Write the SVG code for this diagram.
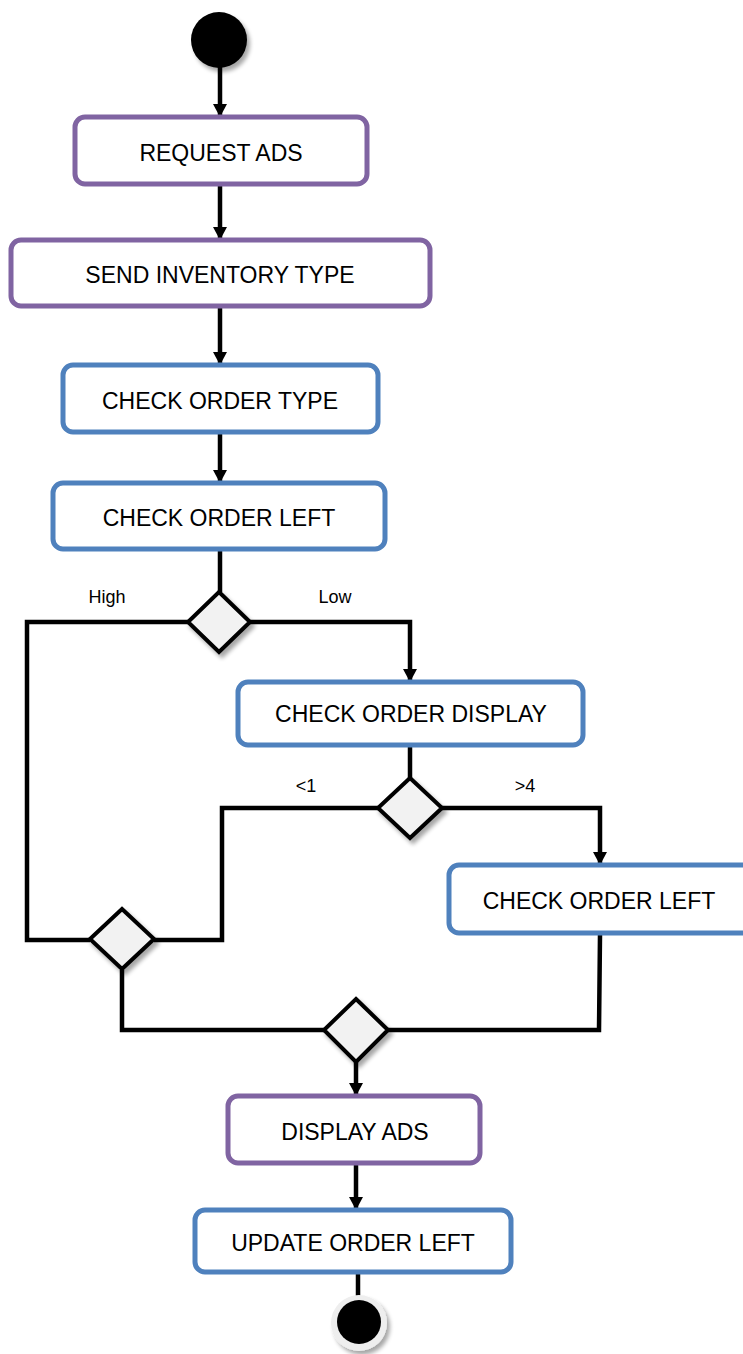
<svg xmlns="http://www.w3.org/2000/svg" width="743" height="1354" viewBox="0 0 743 1354">
<defs>
<marker id="arrow" markerWidth="14" markerHeight="14" refX="12" refY="7" orient="auto" markerUnits="userSpaceOnUse">
<path d="M0,0 L13,7 L0,14 Z" fill="#000"/>
</marker>
<filter id="shadow" x="-30%" y="-30%" width="170%" height="170%">
<feGaussianBlur in="SourceAlpha" stdDeviation="2"/>
<feOffset dx="3" dy="4" result="b"/>
<feComponentTransfer><feFuncA type="linear" slope="0.35"/></feComponentTransfer>
<feMerge><feMergeNode/><feMergeNode in="SourceGraphic"/></feMerge>
</filter>
</defs>
<style>
.purple{fill:#fff;stroke:#8064A2;stroke-width:5}
.blue{fill:#fff;stroke:#4F81BD;stroke-width:5}
.dia{fill:#F2F2F2;stroke:#000;stroke-width:4;filter:url(#shadow)}
.lbl{font-family:"Liberation Sans",Arial,sans-serif;font-size:23px;fill:#000;text-anchor:middle;dominant-baseline:central}
.small{font-family:"Liberation Sans",Arial,sans-serif;font-size:18px;fill:#000;text-anchor:middle;dominant-baseline:central}
.line{fill:none;stroke:#000;stroke-width:4.5}
</style>
<rect width="743" height="1354" fill="#fff"/>
<g id="connectors">
<line class="line" x1="220" y1="66" x2="220" y2="116" marker-end="url(#arrow)"/>
<line class="line" x1="220" y1="186" x2="220" y2="239" marker-end="url(#arrow)"/>
<line class="line" x1="220" y1="308" x2="220" y2="364" marker-end="url(#arrow)"/>
<line class="line" x1="220" y1="434" x2="220" y2="482" marker-end="url(#arrow)"/>
<line class="line" x1="220" y1="551" x2="220" y2="592"/>
<polyline class="line" points="188,622 27,622 27,940 90,940"/>
<polyline class="line" points="250,622 410,622 410,681" marker-end="url(#arrow)"/>
<line class="line" x1="410" y1="747" x2="410" y2="778"/>
<polyline class="line" points="378,808 222,808 222,940 154,940"/>
<polyline class="line" points="442,808 600,808 600,864" marker-end="url(#arrow)"/>
<polyline class="line" points="600,935 599,1030 388,1030"/>
<polyline class="line" points="122,970 122,1030 324,1030"/>
<line class="line" x1="356" y1="1062" x2="356" y2="1095" marker-end="url(#arrow)"/>
<line class="line" x1="356" y1="1165" x2="356" y2="1209" marker-end="url(#arrow)"/>
<line class="line" x1="358" y1="1274" x2="358" y2="1300"/>
<text class="small" x="107" y="597">High</text>
<text class="small" x="335" y="597">Low</text>
<text class="small" x="306" y="786">&lt;1</text>
<text class="small" x="525" y="786">&gt;4</text>
</g>
<g id="start"><circle cx="219" cy="40" r="28" fill="#000" filter="url(#shadow)"/></g>
<g id="request-ads"><rect class="purple" x="75" y="117" width="292" height="67" rx="10"/><text class="lbl" x="221" y="153">REQUEST ADS</text></g>
<g id="send-inventory-type"><rect class="purple" x="11" y="240" width="419" height="66" rx="10"/><text class="lbl" x="220" y="275">SEND INVENTORY TYPE</text></g>
<g id="check-order-type"><rect class="blue" x="63" y="365" width="315" height="67" rx="10"/><text class="lbl" x="220" y="401">CHECK ORDER TYPE</text></g>
<g id="check-order-left-1"><rect class="blue" x="53" y="483" width="332" height="66" rx="10"/><text class="lbl" x="219" y="518">CHECK ORDER LEFT</text></g>
<g id="decision-1"><polygon class="dia" points="219,592 250,622 219,652 188,622"/></g>
<g id="check-order-display"><rect class="blue" x="238" y="682" width="345" height="63" rx="10"/><text class="lbl" x="411" y="714">CHECK ORDER DISPLAY</text></g>
<g id="decision-2"><polygon class="dia" points="410,778 442,808 410,838 378,808"/></g>
<g id="check-order-left-2"><rect class="blue" x="449" y="865" width="304" height="68" rx="10"/><text class="lbl" x="599" y="901">CHECK ORDER LEFT</text></g>
<g id="decision-3"><polygon class="dia" points="122,909 154,939 122,969 90,939"/></g>
<g id="decision-4"><polygon class="dia" points="356,999 388,1030 356,1062 324,1030"/></g>
<g id="display-ads"><rect class="purple" x="228" y="1096" width="252" height="67" rx="10"/><text class="lbl" x="355" y="1132">DISPLAY ADS</text></g>
<g id="update-order-left"><rect class="blue" x="195" y="1210" width="316" height="62" rx="10"/><text class="lbl" x="353" y="1243">UPDATE ORDER LEFT</text></g>
<g id="end"><circle cx="359" cy="1323" r="28" fill="#EEEEEE" filter="url(#shadow)"/><circle cx="359" cy="1322" r="22" fill="#000"/></g>
</svg>
